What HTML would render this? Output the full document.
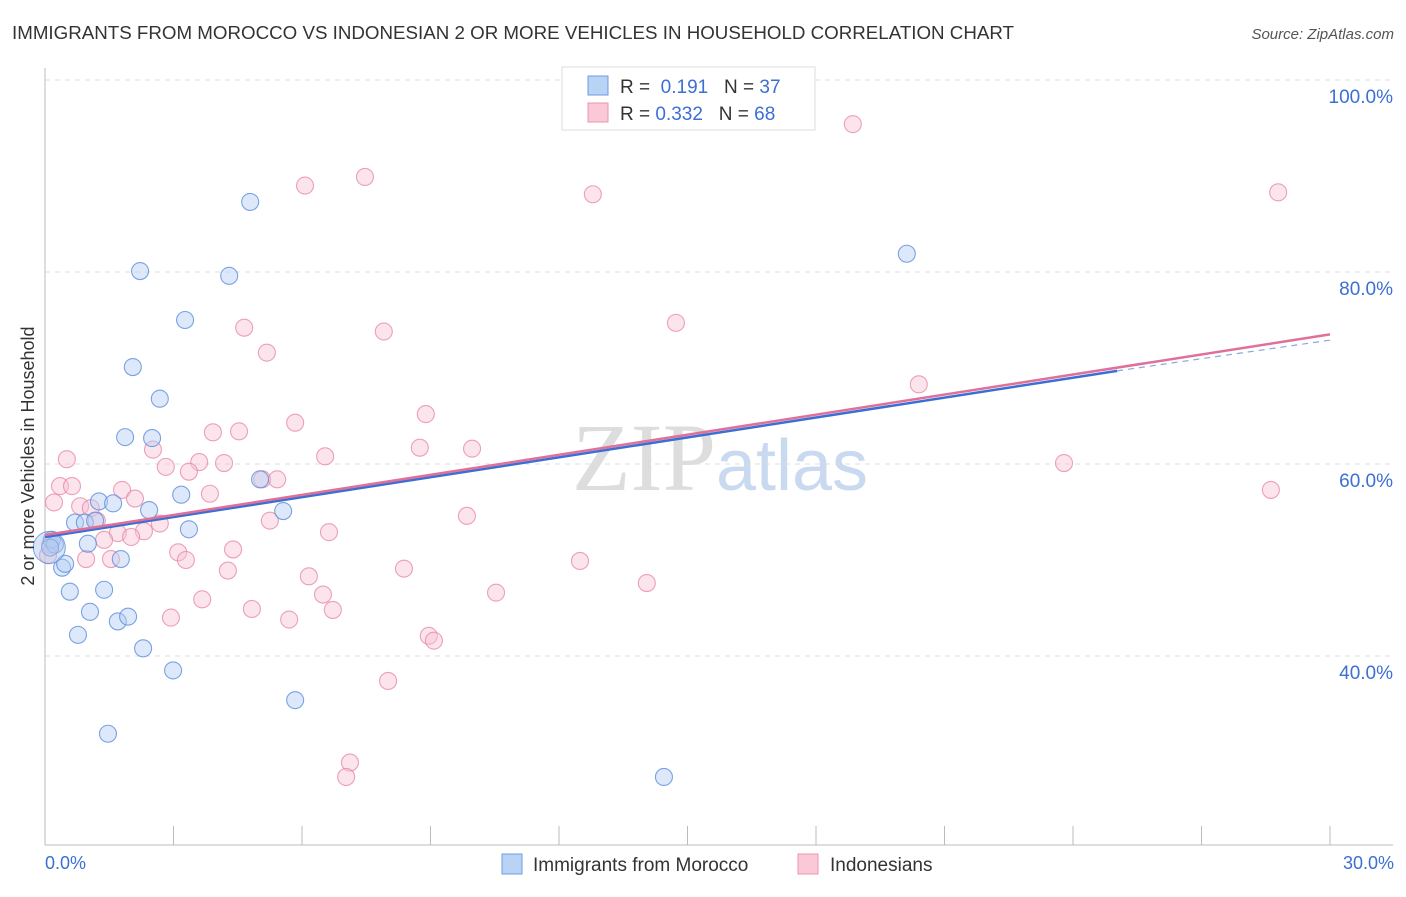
<!DOCTYPE html>
<html><head><meta charset="utf-8"><style>
body{margin:0;background:#fff;font-family:"Liberation Sans",sans-serif;}
</style></head><body>
<svg id="c" width="1406" height="892" xmlns="http://www.w3.org/2000/svg">
<text x="12" y="39" font-size="18" fill="#333" textLength="1002" lengthAdjust="spacingAndGlyphs">IMMIGRANTS FROM MOROCCO VS INDONESIAN 2 OR MORE VEHICLES IN HOUSEHOLD CORRELATION CHART</text>
<text x="1394" y="39" font-size="15" fill="#555" font-style="italic" text-anchor="end">Source: ZipAtlas.com</text>
<text x="720" y="490" font-size="96" fill="#ddd" text-anchor="middle" font-family="Liberation Serif,serif">ZIP<tspan fill="#c9d9f0" font-family="Liberation Sans,sans-serif" font-size="72">atlas</tspan></text>
<g id="grid"></g><g id="pts"></g><g id="lines"></g>
<text transform="translate(34,456) rotate(-90)" font-size="18" fill="#333" text-anchor="middle">2 or more Vehicles in Household</text>
<text x="45" y="869" font-size="18" fill="#3b6fd4">0.0%</text>
<text x="1394" y="869" font-size="18" fill="#3b6fd4" text-anchor="end">30.0%</text>
<g>
<rect x="562" y="67" width="253" height="63" fill="#fff" stroke="#ddd"/>
<rect x="588" y="76" width="20" height="19" fill="#b9d3f5" stroke="#6f9ae0"/>
<rect x="588" y="103" width="20" height="19" fill="#fbc8d8" stroke="#e993b0"/>
<text x="620" y="93" font-size="19" fill="#333">R = <tspan fill="#3b6fd4">&#160;0.191</tspan>&#160;&#160;&#160;N = <tspan fill="#3b6fd4">37</tspan></text>
<text x="620" y="120" font-size="19" fill="#333">R = <tspan fill="#3b6fd4">0.332</tspan>&#160;&#160;&#160;N = <tspan fill="#3b6fd4">68</tspan></text>
</g>
<g>
<rect x="502" y="854" width="20" height="20" fill="#b9d3f5" stroke="#6f9ae0"/>
<text x="533" y="871" font-size="19" fill="#333">Immigrants from Morocco</text>
<rect x="798" y="854" width="20" height="20" fill="#fbc8d8" stroke="#e993b0"/>
<text x="830" y="871" font-size="19" fill="#333">Indonesians</text>
</g>
</svg>
<script>
const yTicks=[100,80,60,40];
const yTickLabels=["100.0%","80.0%","60.0%","40.0%"];
const blueX=[4.79,2.22,4.30,3.27,2.05,2.68,1.87,2.50,3.18,1.26,1.59,5.02,2.43,0.70,0.93,1.17,5.56,3.36,1.00,1.77,0.40,0.47,0.58,1.38,1.05,1.70,1.94,0.77,2.29,2.99,5.84,1.47,14.45,20.12,0.16,0.23,0.12];
const blueY=[87.3,80.1,79.6,75.0,70.1,66.8,62.8,62.7,56.8,56.1,55.9,58.4,55.2,53.9,53.9,54.1,55.1,53.2,51.7,50.1,49.2,49.6,46.7,46.9,44.6,43.6,44.1,42.2,40.8,38.5,35.4,31.9,27.4,81.9,52.1,51.6,51.3];
const pinkX=[18.86,28.79,7.47,6.07,12.79,4.65,7.91,14.73,5.18,20.40,8.89,5.84,3.92,4.53,8.75,9.97,2.52,0.51,6.54,23.79,3.60,4.18,2.82,3.36,5.07,5.42,0.35,0.63,1.80,3.85,2.10,28.62,0.21,0.82,1.07,1.21,9.85,5.25,2.68,6.63,2.31,1.70,2.01,1.38,4.39,3.11,3.29,0.96,1.54,12.49,8.38,4.27,6.16,14.05,10.53,6.49,3.67,4.83,6.72,2.94,5.70,8.96,9.08,8.01,7.12,7.03,0.12,0.07];
const pinkY=[95.4,88.3,89.9,89.0,88.1,74.2,73.8,74.7,71.6,68.3,65.2,64.3,63.3,63.4,61.7,61.6,61.5,60.5,60.8,60.1,60.2,60.1,59.7,59.2,58.4,58.4,57.7,57.7,57.3,56.9,56.4,57.3,56.0,55.6,55.4,54.1,54.6,54.1,53.8,52.9,53.0,52.8,52.4,52.1,51.1,50.8,50.0,50.1,50.1,49.9,49.1,48.9,48.3,47.6,46.6,46.4,45.9,44.9,44.8,44.0,43.8,42.1,41.6,37.4,28.9,27.4,51.6,50.5];
const blueTrend=[0,52.4,25.03,69.7,30,72.9];
const pinkTrend=[0,52.6,30,73.5];
const X=v=>45+v/30*1285, Y=v=>80+(100-v)*9.6;
const NS="http://www.w3.org/2000/svg";
function mk(t,a,p){const e=document.createElementNS(NS,t);for(const k in a)e.setAttribute(k,a[k]);p.appendChild(e);return e;}
const g=document.getElementById('grid');
yTicks.forEach((t,i)=>{
 const l=mk('line',{x1:45,x2:1393,y1:Y(t),y2:Y(t),stroke:'#ddd','stroke-dasharray':'5,5'},g);
 
 
 const tx=mk('text',{x:1393,y:Y(t)+23,'font-size':19,fill:'#3b6fd4','text-anchor':'end'},g);
 tx.textContent=yTickLabels[i];
 
 
});
const ax=mk('line',{x1:45,x2:45,y1:68,y2:845,stroke:'#bbb'},g);


const bx=mk('line',{x1:45,x2:1393,y1:845,y2:845,stroke:'#bbb'},g);


for(let i=1;i<=10;i++){const t=mk('line',{x1:X(i*3),x2:X(i*3),y1:826,y2:845,stroke:'#bbb'},g);
 
 }
const p=document.getElementById('pts');
function dots(xs,ys,fill,stroke,name){xs.forEach((x,i)=>{
 const c=mk('circle',{cx:X(x),cy:Y(ys[i]),r:8.5,fill:fill,'fill-opacity':0.45,stroke:stroke,'stroke-opacity':0.8,'stroke-width':1.1},p);
 
 });}
dots(pinkX,pinkY,'#f9c3d4','#e88aaa','indonesians-point');
dots(blueX,blueY,'#b4cff3','#5b8ddc','morocco-point');
const big1=mk('circle',{cx:X(0.1),cy:Y(51.3),r:16,fill:'#a9c6ef','fill-opacity':0.45,stroke:'#5b8ddc','stroke-opacity':0.8},p);


const L=document.getElementById('lines');
const bl=mk('line',{x1:X(blueTrend[0]),y1:Y(blueTrend[1]),x2:X(blueTrend[2]),y2:Y(blueTrend[3]),stroke:'#3b6fd4','stroke-width':2.5},L);


const bd=mk('line',{x1:X(blueTrend[2]),y1:Y(blueTrend[3]),x2:X(blueTrend[4]),y2:Y(blueTrend[5]),stroke:'#8aa8dc','stroke-width':1.2,'stroke-dasharray':'6,5'},L);


const pl=mk('line',{x1:X(pinkTrend[0]),y1:Y(pinkTrend[1]),x2:X(pinkTrend[2]),y2:Y(pinkTrend[3]),stroke:'#e0709a','stroke-width':2.5},L);


</script>
</body></html>
